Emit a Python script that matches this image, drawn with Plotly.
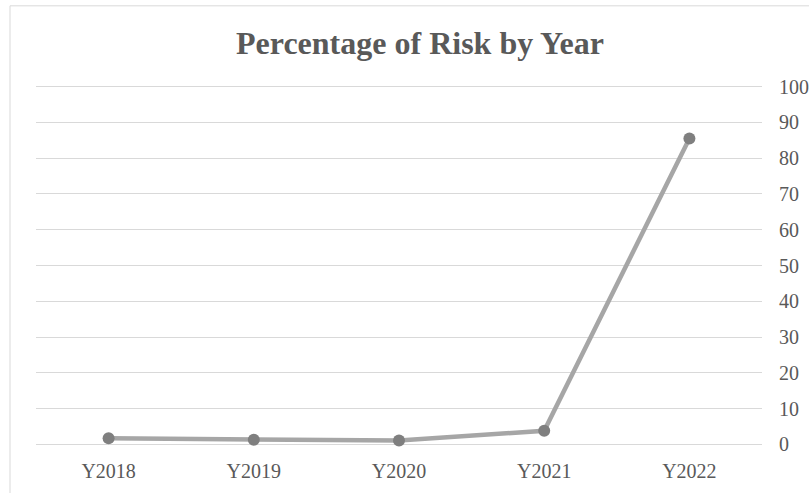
import plotly.graph_objects as go

years = ["Y2018", "Y2019", "Y2020", "Y2021", "Y2022"]
risk_pct = [1.7, 1.3, 1.1, 3.8, 85.5]
y_ticks = [0, 10, 20, 30, 40, 50, 60, 70, 80, 90, 100]

W, H = 809, 493
PLOT_L, PLOT_R = 36, 762
Y0_PX, Y100_PX = 444.3, 86.7
unit = (Y0_PX - Y100_PX) / 100
pad = 1.0
L = PLOT_L
R = W - PLOT_R
T = Y100_PX - pad * unit
B = H - (Y0_PX + pad * unit)
pw = W - L - R
ph = H - T - B

def px_x(p):
    return (p - L) / pw

def px_y(p):
    return (H - B - p) / ph

fig = go.Figure()
fig.add_trace(go.Scatter(
    x=years, y=risk_pct, mode="lines+markers",
    line=dict(color="#A6A6A6", width=4.5),
    marker=dict(color="#7F7F7F", size=12),
    showlegend=False, cliponaxis=False,
))

fig.update_layout(
    width=W, height=H,
    margin=dict(l=L, r=R, t=T, b=B, autoexpand=False),
    paper_bgcolor="white", plot_bgcolor="white",
    title=dict(text="<b>Percentage of Risk by Year</b>", x=420 / W,
               xanchor="center", y=1 - 43 / H, yanchor="middle",
               font=dict(family="Liberation Serif", size=32, color="#595959")),
    font=dict(family="Liberation Serif", size=20, color="#595959"),
    xaxis=dict(range=[-0.5, 4.5], showgrid=False, showline=False, zeroline=False,
               ticks="", ticklabelstandoff=6 + int(pad * unit), automargin=False,
               tickfont=dict(size=20, color="#595959")),
    yaxis=dict(side="right", range=[-pad, 100 + pad], tickvals=y_ticks,
               showgrid=True, gridcolor="#D9D9D9", gridwidth=1.2,
               zeroline=False, showline=False, ticks="", ticklabelstandoff=16,
               automargin=False,
               tickfont=dict(size=20, color="#595959")),
    shapes=[dict(type="rect", xref="paper", yref="paper",
                 x0=px_x(10), x1=px_x(820), y0=px_y(6), y1=px_y(505),
                 line=dict(color="#D9D9D9", width=1), layer="below")],
)

fig.write_html("out.html")
